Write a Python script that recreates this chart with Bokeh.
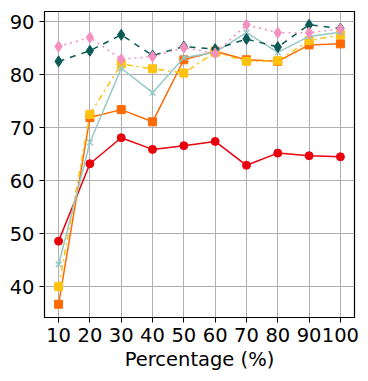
from bokeh.plotting import figure
from bokeh.models import FixedTicker, Range1d
from bokeh.embed import file_html
from bokeh.resources import INLINE

pct = [10, 20, 30, 40, 50, 60, 70, 80, 90, 100]
red_vals = [48.6, 63.2, 68.1, 65.9, 66.6, 67.4, 62.9, 65.2, 64.7, 64.5]
orange_vals = [36.7, 71.9, 73.4, 71.1, 82.8, 84.4, 82.8, 82.5, 85.6, 85.8]
yellow_vals = [40.0, 72.5, 82.0, 81.1, 80.3, 84.2, 82.5, 82.6, 86.4, 87.5]
lteal_vals = [44.2, 67.2, 81.2, 76.6, 83.2, 84.2, 87.9, 84.2, 87.2, 88.0]
dteal_vals = [82.5, 84.5, 87.5, 83.6, 85.3, 84.8, 86.7, 85.2, 89.4, 88.7]
pink_vals = [85.3, 87.0, 82.9, 83.4, 85.1, 84.0, 89.4, 87.9, 87.9, 88.6]
x_ticks = [10, 20, 30, 40, 50, 60, 70, 80, 90, 100]
y_ticks = [40, 50, 60, 70, 80, 90]

p = figure(width=362, height=373, output_backend="svg", toolbar_location=None,
           x_range=Range1d(5.5, 104.5), y_range=Range1d(34.2, 91.9),
           min_border_left=44, min_border_right=8, min_border_top=11, min_border_bottom=55)

p.outline_line_color = "black"
p.outline_line_width = 1.2
p.background_fill_color = "white"
p.border_fill_color = "white"

for ax in (p.xaxis[0], p.yaxis[0]):
    ax.axis_line_color = None
    ax.major_tick_out = 5
    ax.major_tick_in = 0
    ax.major_tick_line_color = "black"
    ax.minor_tick_line_color = None
    ax.major_label_text_font = "DejaVu Sans"
    ax.major_label_text_font_size = "19.5px"
    ax.major_label_text_color = "black"
    ax.major_label_standoff = 5

p.xaxis.ticker = FixedTicker(ticks=x_ticks)
p.yaxis.ticker = FixedTicker(ticks=y_ticks)
p.xaxis.axis_label = "Percentage (%)"
p.xaxis.axis_label_text_font = "DejaVu Sans"
p.xaxis.axis_label_text_font_size = "19.5px"
p.xaxis.axis_label_text_font_style = "normal"
p.xaxis.axis_label_text_color = "black"
p.xaxis.axis_label_standoff = 3

p.grid.grid_line_color = "#b0b0b0"
p.grid.grid_line_width = 1
p.xgrid.ticker = FixedTicker(ticks=x_ticks)
p.ygrid.ticker = FixedTicker(ticks=y_ticks)

series = [
    (red_vals, "#e8000b", "solid", "circle", 8),
    (orange_vals, "#ff6a00", "solid", "square", 8),
    (yellow_vals, "#ffc20e", "dashdot", "square", 8),
    (lteal_vals, "#96c8c8", "solid", "x", 8),
    (dteal_vals, "#0b5a55", "dashed", "diamond", 11),
    (pink_vals, "#f48fbe", "dotted", "diamond", 11),
]

for vals, color, dash, marker, size in series:
    p.line(pct, vals, line_color=color, line_width=1.5, line_dash=dash)
    p.scatter(pct, vals, marker=marker, size=size, fill_color=color, line_color=color,
              line_width=1.5 if marker == "x" else 1)

open("out.html", "w").write(file_html(p, INLINE))
